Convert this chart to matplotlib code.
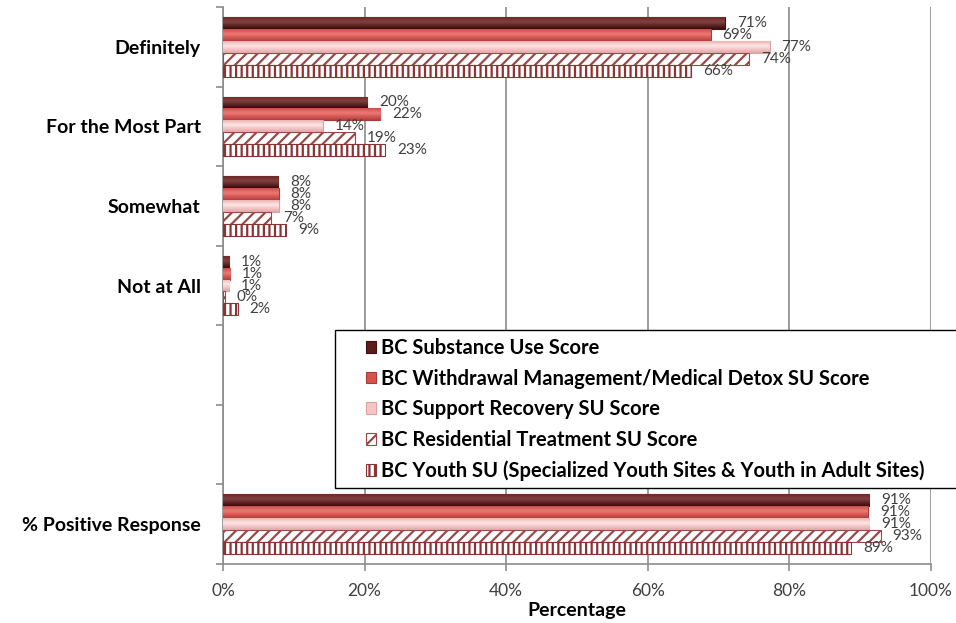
import numpy as np
import matplotlib.pyplot as plt
from matplotlib.colors import to_rgb
from matplotlib.patches import Rectangle

plt.rcParams['font.family'] = ['Lato', 'DejaVu Sans']
plt.rcParams['hatch.linewidth'] = 1.6

# data
categories = ['Definitely', 'For the Most Part', 'Somewhat', 'Not at All', '', '', '% Positive Response']
series_names = ['BC Substance Use Score',
                'BC Withdrawal Management/Medical Detox SU Score',
                'BC Support Recovery SU Score',
                'BC Residential Treatment SU Score',
                'BC Youth SU (Specialized Youth Sites & Youth in Adult Sites)']
substance = [70.9, 20.4, 7.8, 0.9, np.nan, np.nan, 91.3]
withdrawal = [68.9, 22.2, 7.9, 1.0, np.nan, np.nan, 91.1]
support = [77.2, 14.1, 7.9, 0.9, np.nan, np.nan, 91.3]
residential = [74.3, 18.6, 6.8, 0.3, np.nan, np.nan, 92.9]
youth = [66.1, 22.9, 8.9, 2.1, np.nan, np.nan, 88.7]
x_ticks = [0, 20, 40, 60, 80, 100]

all_series = [substance, withdrawal, support, residential, youth]
faces = ['#5e1c1c', '#d4534f', '#f6c6c6', 'white', 'white']
edges = ['#3f1010', '#a83a37', '#d9a3a3', '#9a4848', '#8a3434']
hatches = [None, None, None, '///', '|||']
# top / middle / bottom shades for the shaded (Excel style) bars
shades = [('#6e2828', '#824040', '#3a0b0b'),
          ('#c4504c', '#ee7874', '#b63e3a'),
          ('#e9b4b4', '#ffe6e6', '#e0a6a6'),
          None, None]


def shade_bars(ax, bars, stops):
    t = np.linspace(0, 1, 40)
    cols = np.array([to_rgb(c) for c in stops])
    grad = np.stack([np.interp(t, [0, 0.4, 1], cols[:, k]) for k in range(3)], axis=1)
    img = grad[:, None, :]
    for b in bars:
        x0, y0, w, h = b.get_x(), b.get_y(), b.get_width(), b.get_height()
        im = ax.imshow(img, extent=(x0, x0 + w, y0 + h, y0), aspect='auto',
                       interpolation='bilinear', zorder=3.1)
        im.set_clip_path(b)


W, H = 956, 623
fig = plt.figure(figsize=(W / 100, H / 100), dpi=100)
ax = fig.add_axes([223 / W, 1 - 564 / H, (931 - 223) / W, (564 - 7) / H])

n = len(all_series)
bar_h = 0.75 / n
y = np.arange(len(categories))
for i, (vals, name) in enumerate(zip(all_series, series_names)):
    pos = y - 0.375 + bar_h * (i + 0.5)
    v = np.array(vals, dtype=float)
    ok = ~np.isnan(v)
    bars = ax.barh(pos[ok], v[ok], height=bar_h, color=faces[i], edgecolor=edges[i],
                   hatch=hatches[i], linewidth=0.8, label=name, zorder=3)
    if shades[i] is not None:
        shade_bars(ax, bars, shades[i])
    for p, val in zip(pos[ok], v[ok]):
        ax.annotate(f'{round(val)}%', (val, p), xytext=(8.5, 0), textcoords='offset points',
                    va='center', ha='left', fontsize=11, color='#404040', zorder=4)

ax.set_xlim(0, 100)
ax.set_ylim(len(categories) - 0.5, -0.5)
ax.set_xticks(x_ticks)
ax.set_xticklabels([f'{t}%' for t in x_ticks], fontsize=12.5, color='#404040')
ax.set_yticks(y)
ax.set_yticklabels(categories, fontsize=14, fontweight='bold')
ax.set_yticks(np.arange(len(categories) + 1) - 0.5, minor=True)
ax.tick_params(axis='y', which='major', length=0, pad=16)
ax.tick_params(axis='y', which='minor', length=5, color='#8c8c8c', width=1.2)
ax.tick_params(axis='x', length=5, color='#8c8c8c', width=1.2, pad=9)
ax.grid(axis='x', color='#8c8c8c', linewidth=1.2, zorder=0)
ax.set_axisbelow(True)
for s in ['top', 'right']:
    ax.spines[s].set_visible(False)
for s in ['left', 'bottom']:
    ax.spines[s].set_color('#8c8c8c')
    ax.spines[s].set_linewidth(1.2)
ax.set_xlabel('Percentage', fontsize=14, fontweight='bold', labelpad=2)

# legend box
fig.patches.append(Rectangle((335 / W, 1 - 488 / H), (965 - 335) / W, (488 - 330) / H,
                             transform=fig.transFigure, facecolor='white',
                             edgecolor='black', linewidth=1, zorder=2))
leg = fig.legend(loc='upper left', bbox_to_anchor=(366 / W, 1 - 338 / H), frameon=False,
                 fontsize=14.5, handlelength=0.5, handleheight=0.5, handletextpad=0.25,
                 labelspacing=0.53, borderaxespad=0, borderpad=0)
for t in leg.get_texts():
    t.set_fontweight('bold')

fig.savefig('out.png', dpi=100)
